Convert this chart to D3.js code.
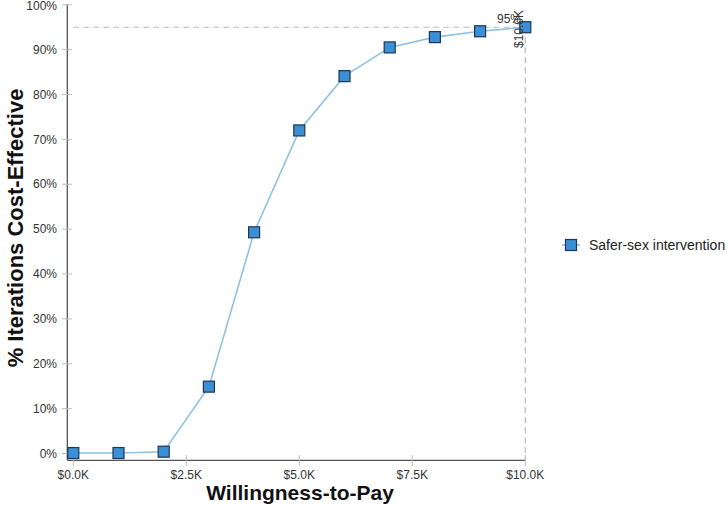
<!DOCTYPE html>
<html>
<head>
<meta charset="utf-8">
<script src="https://cdn.jsdelivr.net/npm/d3@7/dist/d3.min.js"></script>
<style>
  html, body { margin: 0; padding: 0; background: #fff; }
  svg { display: block; font-family: "Liberation Sans", Arial, sans-serif; }
</style>
</head>
<body>
<svg id="chart" width="727" height="505"></svg>
<script>
// Data
const wtp = [0, 1000, 2000, 3000, 4000, 5000, 6000, 7000, 8000, 9000, 10000];
const pctCostEffective = [0.1, 0.1, 0.4, 14.9, 49.3, 72.0, 84.1, 90.5, 92.8, 94.1, 95.0];
const seriesName = "Safer-sex intervention";
const xTicks = [0, 2500, 5000, 7500, 10000];
const yTicks = [0, 10, 20, 30, 40, 50, 60, 70, 80, 90, 100];
const thresholdPct = 95;
const thresholdWtp = 10000;

const svg = d3.select("#chart");
const x = d3.scaleLinear().domain([0, 10000]).range([73.3, 525.3]);
const y = d3.scaleLinear().domain([0, 100]).range([453.5, 4.8]);
const axisX0 = 67.3, axisY0 = 460.3;

const fmtX = d => "$" + (d / 1000).toFixed(1) + "K";
const fmtY = d => d + "%";

// Y axis
const gy = svg.append("g");
gy.append("line").attr("x1", axisX0).attr("x2", axisX0).attr("y1", 4).attr("y2", axisY0)
  .attr("stroke", "#555").attr("stroke-width", 1.3);
gy.selectAll("line.tick").data(yTicks).enter().append("line").attr("class", "tick")
  .attr("x1", 62).attr("x2", 72).attr("y1", d => y(d)).attr("y2", d => y(d))
  .attr("stroke", "#bbb").attr("stroke-width", 1);
gy.selectAll("text").data(yTicks).enter().append("text")
  .attr("x", 57).attr("y", d => Math.max(y(d), 6)).attr("dy", "0.35em")
  .attr("text-anchor", "end").attr("font-size", 12).attr("fill", "#333")
  .text(fmtY);

// X axis
const gx = svg.append("g");
gx.append("line").attr("x1", axisX0).attr("x2", x(10000)).attr("y1", axisY0).attr("y2", axisY0)
  .attr("stroke", "#555").attr("stroke-width", 1.3);
gx.selectAll("line.tick").data(xTicks).enter().append("line").attr("class", "tick")
  .attr("x1", d => x(d)).attr("x2", d => x(d)).attr("y1", 455).attr("y2", 466)
  .attr("stroke", "#bbb").attr("stroke-width", 1);
gx.selectAll("text").data(xTicks).enter().append("text")
  .attr("x", d => x(d)).attr("y", 479)
  .attr("text-anchor", "middle").attr("font-size", 12).attr("fill", "#333")
  .text(fmtX);

// Threshold dashed lines
svg.append("line")
  .attr("x1", axisX0 + 6).attr("x2", x(thresholdWtp))
  .attr("y1", y(thresholdPct)).attr("y2", y(thresholdPct))
  .attr("stroke", "#bbb").attr("stroke-width", 1.2).attr("stroke-dasharray", "6,4");
svg.append("line")
  .attr("x1", x(thresholdWtp)).attr("x2", x(thresholdWtp))
  .attr("y1", y(thresholdPct)).attr("y2", axisY0)
  .attr("stroke", "#bbb").attr("stroke-width", 1.2).attr("stroke-dasharray", "6,4");

// Series line
const pts = wtp.map((w, i) => [w, pctCostEffective[i]]);
svg.append("path").datum(pts)
  .attr("d", d3.line().x(d => x(d[0])).y(d => y(d[1])))
  .attr("fill", "none").attr("stroke", "#8fc1e5").attr("stroke-width", 1.6);

// Markers
const ms = 11;
svg.selectAll("rect.pt").data(pts).enter().append("rect").attr("class", "pt")
  .attr("x", d => x(d[0]) - ms / 2).attr("y", d => y(d[1]) - ms / 2)
  .attr("width", ms).attr("height", ms)
  .attr("fill", "#3b8fd4").attr("stroke", "#1f3550").attr("stroke-width", 1.2);

// Threshold labels
svg.append("text").attr("x", 497).attr("y", 23).attr("font-size", 12).attr("fill", "#333")
  .text(thresholdPct + "%");
svg.append("text").attr("transform", "translate(523,48) rotate(-90)")
  .attr("font-size", 12).attr("fill", "#333").text(fmtX(thresholdWtp));

// Axis titles
svg.append("text").attr("x", 300).attr("y", 500).attr("text-anchor", "middle")
  .attr("font-size", 21).attr("font-weight", "bold").attr("fill", "#111")
  .text("Willingness-to-Pay");
svg.append("text").attr("transform", "translate(23,228) rotate(-90)")
  .attr("text-anchor", "middle").attr("font-size", 22).attr("font-weight", "bold").attr("fill", "#111")
  .text("% Iterations Cost-Effective");

// Legend
const lg = svg.append("g").attr("transform", "translate(571,245)");
lg.append("line").attr("x1", -9).attr("x2", 9).attr("y1", 0).attr("y2", 0)
  .attr("stroke", "#8fc1e5").attr("stroke-width", 1.6);
lg.append("rect").attr("x", -5.5).attr("y", -5.5).attr("width", 11).attr("height", 11)
  .attr("fill", "#3b8fd4").attr("stroke", "#1f3550").attr("stroke-width", 1.2);
lg.append("text").attr("x", 18).attr("y", 0).attr("dy", "0.35em")
  .attr("font-size", 14).attr("fill", "#222").text(seriesName);
</script>
</body>
</html>
